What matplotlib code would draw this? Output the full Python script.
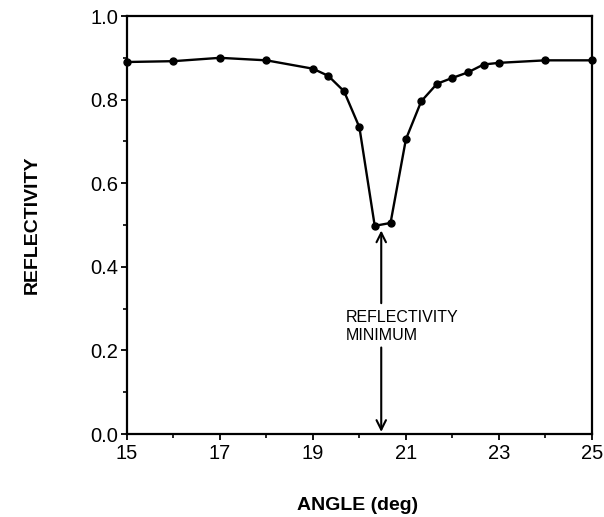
import matplotlib
matplotlib.use("Agg")
import matplotlib.pyplot as plt
from matplotlib.ticker import MultipleLocator

# reflectivity curve
angle = [15, 16, 17, 18, 19, 19.33, 19.67, 20, 20.33, 20.67, 21,
         21.33, 21.67, 22, 22.33, 22.67, 23, 24, 25]
reflectivity = [0.890, 0.892, 0.900, 0.894, 0.874, 0.857, 0.820, 0.734,
                0.498, 0.505, 0.705, 0.796, 0.838, 0.852, 0.865, 0.884,
                0.888, 0.894, 0.894]

x_ticks = [15, 17, 19, 21, 23, 25]
y_ticks = [0.0, 0.2, 0.4, 0.6, 0.8, 1.0]
min_angle = 20.47

plt.rcParams["font.family"] = ["Liberation Sans", "DejaVu Sans"]

fig = plt.figure(figsize=(6.04, 5.17), dpi=100)
ax = fig.add_axes([0.21, 0.1605, 0.77, 0.8085])

ax.plot(angle, reflectivity, color="black", lw=1.7, marker="o", ms=5,
        clip_on=False, zorder=3)

ax.set_xlim(15, 25)
ax.set_ylim(0, 1.0)
ax.set_xticks(x_ticks)
ax.set_xticklabels([str(t) for t in x_ticks])
ax.set_yticks(y_ticks)
ax.set_yticklabels([f"{t:.1f}" for t in y_ticks])
ax.xaxis.set_minor_locator(MultipleLocator(1))
ax.yaxis.set_minor_locator(MultipleLocator(0.1))
ax.tick_params(which="major", direction="out", length=4, width=1.3,
               labelsize=14.5, pad=2)
ax.tick_params(axis="x", which="major", pad=3)
ax.tick_params(which="minor", direction="out", length=3, width=1.2)
for s in ax.spines.values():
    s.set_linewidth(1.6)

# reflectivity minimum annotation
ax.annotate("", xy=(min_angle, 0.487), xytext=(min_angle, 0.313),
            arrowprops=dict(arrowstyle="->", lw=1.5, color="black",
                            mutation_scale=17, shrinkA=0, shrinkB=0))
ax.annotate("", xy=(min_angle, 0.005), xytext=(min_angle, 0.207),
            arrowprops=dict(arrowstyle="->", lw=1.5, color="black",
                            mutation_scale=17, shrinkA=0, shrinkB=0))
ax.text(19.7, 0.257, "REFLECTIVITY\nMINIMUM", fontsize=11.5,
        ha="left", va="center", linespacing=1.25)

fig.text(358 / 604, 1 - 505 / 517, "ANGLE (deg)", fontsize=14,
         fontweight="bold", ha="center", va="center")
ax.set_ylabel("REFLECTIVITY", fontsize=14, fontweight="bold", labelpad=36)

fig.savefig("out.png", dpi=100)
